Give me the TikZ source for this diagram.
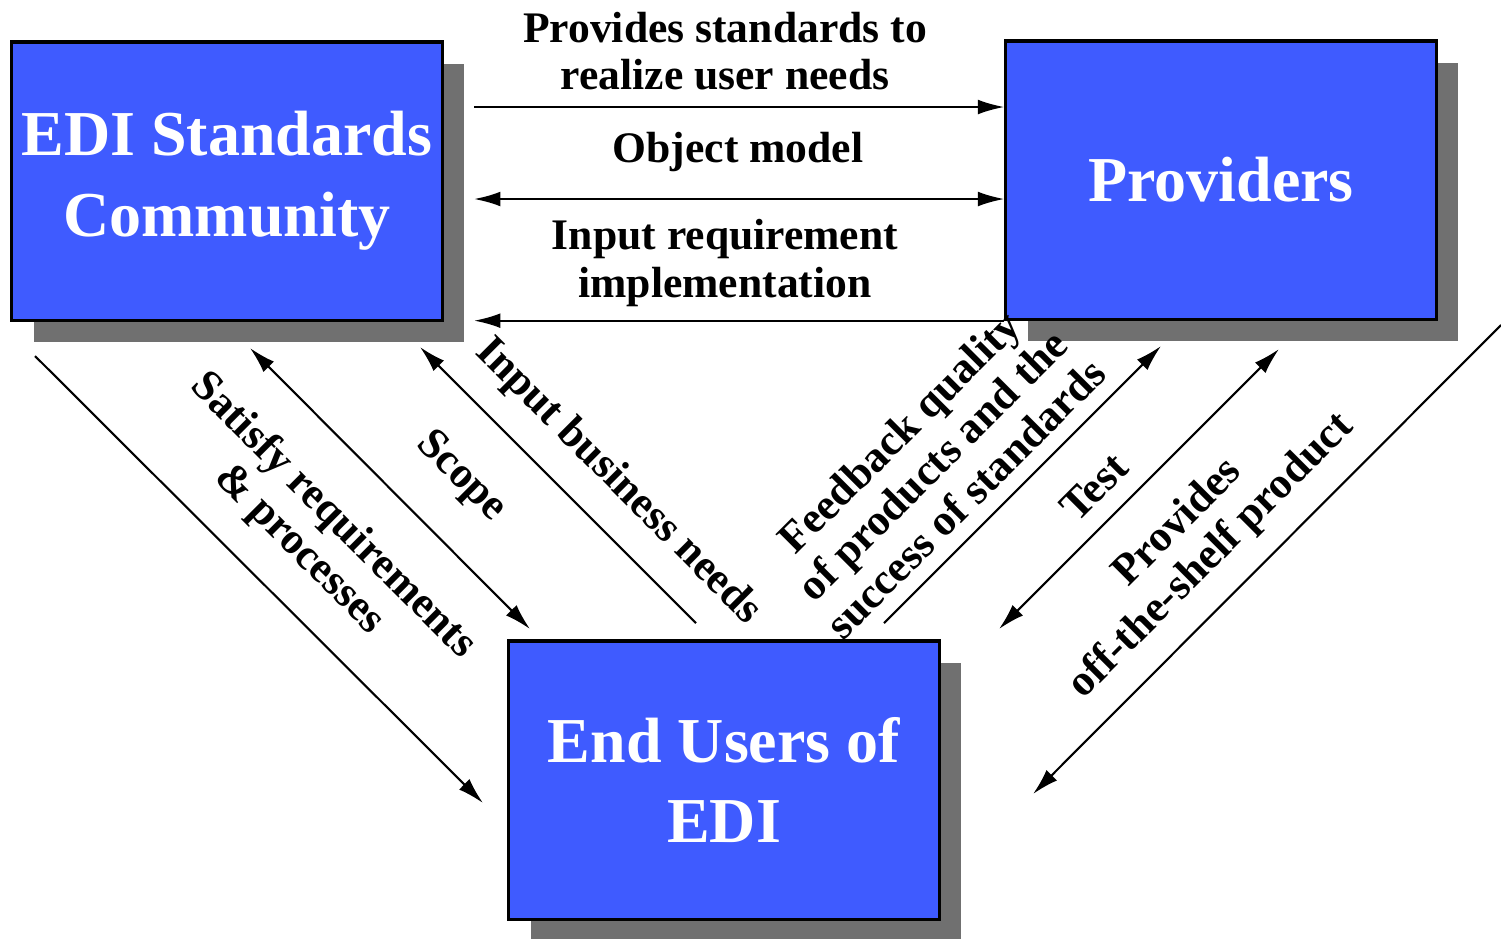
\documentclass[tikz,border=0pt]{standalone}
\usepackage{fontspec}
\setmainfont{Liberation Serif}
\usetikzlibrary{arrows.meta,shadows}

\definecolor{ediblue}{RGB}{63,91,255}
\definecolor{shadowgray}{RGB}{112,112,112}

\tikzset{
  party/.style={draw, line width=0.9pt, fill=ediblue, text=white,
    minimum width=4.3cm, minimum height=2.78cm, inner sep=0pt, align=center,
    font=\fontsize{18.2}{23}\selectfont\bfseries,
    drop shadow={shadow xshift=0.22cm, shadow yshift=-0.22cm, fill=shadowgray, opacity=1}},
  flow/.style={font=\fontsize{12.4}{13.4}\selectfont\bfseries, align=center, inner sep=0pt},
  arr/.style={line width=0.6pt, -{Latex[length=7.5pt,width=4.2pt]}},
  twoarr/.style={line width=0.6pt, {Latex[length=7.5pt,width=4.2pt]}-{Latex[length=7.5pt,width=4.2pt]}}
}

\begin{document}
\begin{tikzpicture}[x=0.01cm,y=-0.01cm]
\useasboundingbox (0,0) rectangle (1501,938);
\fill[white] (0,0) rectangle (1501,938);

\node[party] (edi) at (227,181) {EDI Standards\\Community};
\node[party] (prov) at (1221,180) {Providers};
\node[party] (users) at (724,780) {End Users of\\EDI};

\coordinate (top1) at (474,107);
\coordinate (top2) at (474,199);
\draw[arr] (top1) -- (top1 -| prov.west);
\node[flow] (provides) at (725,51) {Provides standards to\\realize user needs};
\draw[twoarr] (top2) -- (top2 -| prov.west);
\node[flow] (object) at (738,152) {Object model};
\draw[arr] (prov.south west) -- (prov.south west -| top1);
\node[flow] (inputreq) at (725,263) {Input requirement\\implementation};

% left side
\coordinate (a1) at (35,356);
\coordinate (a2) at (483,803);
\coordinate (b1) at (250,348);
\coordinate (b2) at (530,629);
\coordinate (c1) at (696,623);
\coordinate (c2) at (420,347);
\draw[arr] (a1) -- (a2);
\draw[twoarr] (b1) -- (b2);
\draw[arr] (c1) -- (c2);
\node[flow, rotate=-45] (satisfy) at (316,533) {Satisfy requirements\\\& processes};
\node[flow, rotate=-45] (scope) at (461,477) {Scope};
\node[flow, rotate=-45] (business) at (618,482) {Input business needs};

% right side
\coordinate (d1) at (884,623);
\coordinate (d2) at (1161,346);
\coordinate (e1) at (999,629);
\coordinate (e2) at (1279,349);
\coordinate (f1) at (1501,325);
\coordinate (f2) at (1033,794);
\draw[arr] (d1) -- (d2);
\draw[twoarr] (e1) -- (e2);
\draw[arr] (f1) -- (f2);
\node[flow, rotate=45] (feedback) at (932,465) {Feedback quality\\of products and the\\success of standards};
\node[flow, rotate=45] (test) at (1094,487) {Test};
\node[flow, rotate=45] (offshelf) at (1195,540) {Provides\\off-the-shelf product};
\end{tikzpicture}
\end{document}
